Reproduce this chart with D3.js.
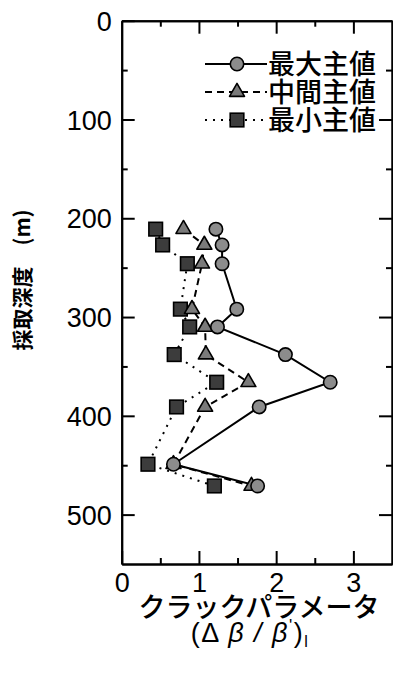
<!DOCTYPE html>
<html>
<head>
<meta charset="utf-8">
<script src="https://cdn.jsdelivr.net/npm/d3@7"></script>
<style>
  html, body { margin: 0; padding: 0; background: #fff; }
  svg { display: block; }
  .tick text { font-family: "Liberation Sans", Arial, sans-serif; font-size: 27px; fill: #000; }
  .jp { font-family: "Noto Sans CJK JP", sans-serif; fill: #000; }
</style>
</head>
<body>
<script>
// Sampling depth (m) of each core
const depths = [211, 227, 246, 292, 310, 338, 366, 391, 449, 471];
// Crack parameter (Δβ/β')_I for each principal direction
const maxPrincipal = [1.22, 1.30, 1.30, 1.49, 1.24, 2.12, 2.70, 1.78, 0.67, 1.76];
const midPrincipal = [0.80, 1.07, 1.04, 0.91, 1.08, 1.09, 1.64, 1.08, 0.67, 1.68];
const minPrincipal = [0.44, 0.53, 0.85, 0.76, 0.88, 0.68, 1.23, 0.71, 0.34, 1.20];
const seriesNames = ["最大主値", "中間主値", "最小主値"];
const xTicks = [0, 1, 2, 3];
const yTicks = [0, 100, 200, 300, 400, 500];

const W = 393, H = 677;
const plotL = 121.7, plotR = 392, plotT = 20.7, plotB = 564;

const svg = d3.select("body").append("svg").attr("width", W).attr("height", H);

const x = d3.scaleLinear().domain([0, 3.5]).range([plotL, plotR]);
const y = d3.scaleLinear().domain([0, 550]).range([plotT, plotB]);

// Axes with inward ticks on all four sides
const major = 13, minor = 6;
const yMinor = d3.range(50, 550, 100);
const xMinor = d3.range(0.5, 3.5, 1);
const intFmt = d3.format("d");

function styleAxis(g) {
  g.select(".domain").attr("stroke", "#000").attr("stroke-width", 2);
  g.selectAll(".tick line").attr("stroke", "#000").attr("stroke-width", 2);
}

svg.append("g").attr("transform", `translate(${plotL},0)`)
  .call(d3.axisLeft(y).tickValues(yTicks).tickFormat(intFmt).tickSize(-major).tickPadding(10).tickSizeOuter(0))
  .call(styleAxis)
  .call(g => g.selectAll(".tick text").attr("dy", "0.36em"));
svg.append("g").attr("transform", `translate(${plotL},0)`)
  .call(d3.axisLeft(y).tickValues(yMinor).tickSize(-minor).tickFormat("").tickSizeOuter(0))
  .call(styleAxis);
svg.append("g").attr("transform", `translate(${plotR},0)`)
  .call(d3.axisRight(y).tickValues(yTicks.slice(1)).tickSize(-major).tickFormat("").tickSizeOuter(0))
  .call(styleAxis);
svg.append("g").attr("transform", `translate(${plotR},0)`)
  .call(d3.axisRight(y).tickValues(yMinor).tickSize(-minor).tickFormat("").tickSizeOuter(0))
  .call(styleAxis);
svg.append("g").attr("transform", `translate(0,${plotB})`)
  .call(d3.axisBottom(x).tickValues(xTicks).tickFormat(intFmt).tickSize(-major).tickPadding(7).tickSizeOuter(0))
  .call(styleAxis)
  .call(g => g.selectAll(".tick text").attr("dy", "0.78em"));
svg.append("g").attr("transform", `translate(0,${plotB})`)
  .call(d3.axisBottom(x).tickValues(xMinor).tickSize(-minor).tickFormat("").tickSizeOuter(0))
  .call(styleAxis);
svg.append("g").attr("transform", `translate(0,${plotT})`)
  .call(d3.axisTop(x).tickValues(xTicks.slice(1)).tickSize(-major).tickFormat("").tickSizeOuter(0))
  .call(styleAxis);
svg.append("g").attr("transform", `translate(0,${plotT})`)
  .call(d3.axisTop(x).tickValues(xMinor).tickSize(-minor).tickFormat("").tickSizeOuter(0))
  .call(styleAxis);

// Series definitions
const series = [
  { name: seriesNames[2], values: minPrincipal, dash: "2,6", shape: "square", fill: "#3c3c3c" },
  { name: seriesNames[1], values: midPrincipal, dash: "7,5", shape: "triangle", fill: "#7a7a7a" },
  { name: seriesNames[0], values: maxPrincipal, dash: null, shape: "circle", fill: "#8c8c8c" }
];

function drawMarker(g, shape, fill, cx, cy) {
  if (shape === "circle") {
    g.append("circle").attr("cx", cx).attr("cy", cy).attr("r", 6.7)
      .attr("fill", fill).attr("stroke", "#000").attr("stroke-width", 1.6);
  } else if (shape === "square") {
    g.append("rect").attr("x", cx - 6.8).attr("y", cy - 6.8).attr("width", 13.6).attr("height", 13.6)
      .attr("fill", fill).attr("stroke", "#000").attr("stroke-width", 1.6);
  } else {
    const s = 15, h = s * Math.sqrt(3) / 2;
    g.append("path")
      .attr("d", `M${cx},${cy - h * 2 / 3}L${cx + s / 2},${cy + h / 3}L${cx - s / 2},${cy + h / 3}Z`)
      .attr("fill", fill).attr("stroke", "#000").attr("stroke-width", 1.6).attr("stroke-linejoin", "round");
  }
}

const line = d3.line().x(d => x(d[0])).y(d => y(d[1]));

series.forEach(s => {
  const pts = s.values.map((v, i) => [v, depths[i]]);
  svg.append("path").datum(pts).attr("d", line)
    .attr("fill", "none").attr("stroke", "#000").attr("stroke-width", 2)
    .attr("stroke-dasharray", s.dash);
});
series.forEach(s => {
  const g = svg.append("g");
  s.values.forEach((v, i) => drawMarker(g, s.shape, s.fill, x(v), y(depths[i])));
});

// Legend
const legendRows = [series[2], series[1], series[0]];
legendRows.forEach((s, i) => {
  const cy = 64 + i * 28;
  const g = svg.append("g");
  g.append("line").attr("x1", 205).attr("x2", 267).attr("y1", cy).attr("y2", cy)
    .attr("stroke", "#000").attr("stroke-width", 2).attr("stroke-dasharray", s.dash);
  drawMarker(g, s.shape, s.fill, 237, cy);
  g.append("text").attr("class", "jp").attr("x", 268).attr("y", cy + 10)
    .attr("font-size", 27).attr("font-weight", 500).text(s.name);
});

// Axis titles
svg.append("text").attr("class", "jp")
  .attr("transform", "translate(30,280) rotate(-90)")
  .attr("text-anchor", "middle").attr("font-size", 21).attr("font-weight", 700)
  .text("採取深度　(m)");

svg.append("text").attr("class", "jp")
  .attr("x", 259).attr("y", 617).attr("text-anchor", "middle")
  .attr("font-size", 27).attr("font-weight", 500)
  .text("クラックパラメータ");

const sub = svg.append("text")
  .attr("x", 250).attr("y", 642).attr("text-anchor", "middle")
  .attr("font-family", "'Liberation Sans', Arial, sans-serif").attr("font-size", 27)
  .attr("letter-spacing", 1.5).attr("fill", "#000");
sub.append("tspan").text("(Δ ");
sub.append("tspan").attr("font-style", "italic").text("β / β");
sub.append("tspan").attr("font-size", 17).attr("dy", -11).text("'");
sub.append("tspan").attr("dy", 11).text(")");
sub.append("tspan").attr("font-size", 16).attr("dy", 5).text("l");
</script>
</body>
</html>
